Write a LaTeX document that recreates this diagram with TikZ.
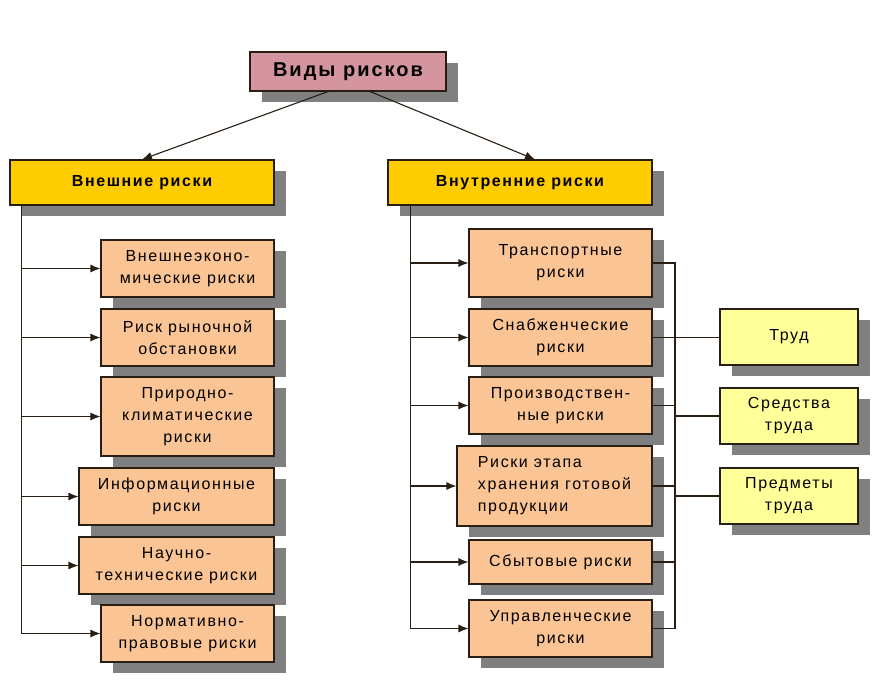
\documentclass[tikz,border=0pt]{standalone}
\usepackage{fontspec}
\setmainfont{Liberation Sans}[LetterSpace=10]
\usepackage{tikz}
\usetikzlibrary{shadows,arrows.meta}
\definecolor{riskpink}  {RGB}{212, 148, 160}
\definecolor{riskgold}  {RGB}{255, 204,   0}
\definecolor{riskpeach} {RGB}{250, 196, 148}
\definecolor{riskyellow}{RGB}{255, 255, 153}
\definecolor{riskshadow}{RGB}{128, 128, 128}
\definecolor{riskline}  {RGB}{ 40,  30,  20}

\begin{document}
\begin{tikzpicture}[x=1pt, y=-1pt, >={Latex[length=10pt, width=8pt]},
    riskbox/.style={draw=riskline, line width=1.1pt, align=center, inner sep=2pt, font=\fontsize{16}{22}\selectfont, drop shadow={shadow xshift=12pt, shadow yshift=-11pt, fill=riskshadow, opacity=1}},
    topbox/.style={riskbox, fill=riskpink, minimum width=196pt, minimum height=39pt, font=\fontsize{20}{24}\selectfont\bfseries},
    headbox/.style={riskbox, fill=riskgold, minimum width=264pt, minimum height=45pt, font=\fontsize{16}{20}\selectfont\bfseries},
    subbox/.style={riskbox, fill=riskpeach, minimum width=#1},
    partbox/.style={riskbox, fill=riskyellow, minimum width=138pt, minimum height=56pt},
    link/.style={line width=1.1pt, riskline}]
    \useasboundingbox (0,0) rectangle (881,685);

    \node[topbox] (kinds) at (348,71.5) {Виды рисков};
    \node[headbox] (external) at (142,182.5) {Внешние риски};
    \node[headbox] (internal) at (520,182.5) {Внутренние риски};

    % external risks
    \node[subbox=173pt, minimum height=57pt] (foreign) at (187.5,268.5) {Внешнеэконо-\\мические риски};
    \node[subbox=173pt, minimum height=57pt] (market) at (187.5,337.5) {Риск рыночной\\обстановки};
    \node[subbox=173pt, minimum height=79pt] (climate) at (187.5,416.5) {Природно-\\климатические\\риски};
    \node[subbox=195pt, minimum height=57pt] (info) at (176.5,496.5) {Информационные\\риски};
    \node[subbox=195pt, minimum height=57pt] (scitech) at (176.5,565.5) {Научно-\\технические риски};
    \node[subbox=173pt, minimum height=57pt] (legal) at (187.5,633.5) {Нормативно-\\правовые риски};

    % internal risks
    \node[subbox=183pt, minimum height=68pt] (transport) at (560.5,263) {Транспортные\\риски};
    \node[subbox=183pt, minimum height=57pt] (supply) at (560.5,337.5) {Снабженческие\\риски};
    \node[subbox=183pt, minimum height=57pt] (production) at (560.5,405.5) {Производствен-\\ные риски};
    \node[subbox=195pt, minimum height=80pt, align=left] (storage) at (554.5,486) {Риски этапа\\хранения готовой\\продукции};
    \node[subbox=183pt, minimum height=44pt] (sales) at (560.5,562) {Сбытовые риски};
    \node[subbox=183pt, minimum height=57pt] (management) at (560.5,628.5) {Управленческие\\риски};

    \node[partbox] (labour) at (789,337) {Труд};
    \node[partbox] (means) at (789,416) {Средства\\труда};
    \node[partbox] (objects) at (789,496) {Предметы\\труда};

    \draw[link, ->] ([xshift=-20pt]kinds.south) -- (external.north);
    \draw[link, ->] ([xshift=22pt]kinds.south) -- ([xshift=15pt]internal.north);

    \foreach \kind in {foreign, market, climate, info, scitech, legal}
        \draw[link, ->] ([xshift=12pt]external.south west) |- (\kind);
    \foreach \kind in {transport, supply, production, storage, sales, management}
        \draw[link, ->] ([xshift=23pt]internal.south west) |- (\kind);

    % bus to the parts of production
    \coordinate (bus) at (675,0);
    \draw[link] (transport.east) -- (transport.east -| bus) |- (management.east);
    \foreach \kind in {production, storage, sales}
        \draw[link] (\kind.east) -- (\kind.east -| bus);
    \draw[link] (supply.east) -- (supply.east -| labour.west);
    \draw[link] (means.west -| bus) -- (means.west);
    \draw[link] (objects.west -| bus) -- (objects.west);
\end{tikzpicture}
\end{document}
